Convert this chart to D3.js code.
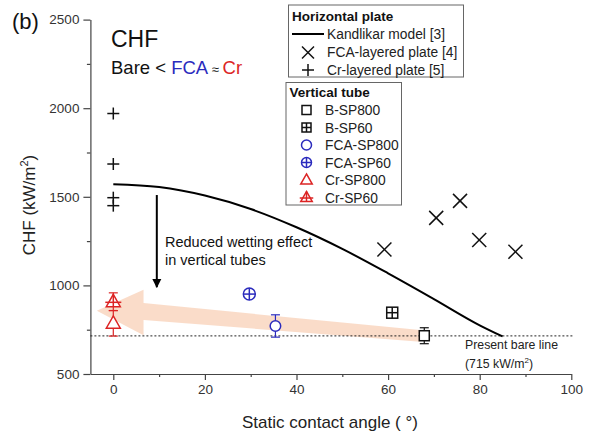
<!DOCTYPE html>
<html>
<head>
<meta charset="utf-8">
<script src="https://cdn.jsdelivr.net/npm/d3@7"></script>
<style>
  body { margin: 0; background: #fff; }
  svg { font-family: 'Liberation Sans', Arial, sans-serif; }
  .axis path, .axis line { stroke: #444; stroke-width: 1.2; }
  .axis text { fill: #333; font-size: 13.5px; font-family: 'Liberation Sans', Arial, sans-serif; }
</style>
</head>
<body>
<svg id="chart" width="591" height="434"></svg>
<script>
const xDomain = [-5, 100]
const yDomain = [500, 2500]
const xTicks = [0, 20, 40, 60, 80, 100]
const xMinor = [10, 30, 50, 70, 90]
const yTicks = [500, 1000, 1500, 2000, 2500]
const yMinor = [750, 1250, 1750, 2250]

// horizontal plate
const kandlikarAngle = [0, 10, 20, 30, 40, 50, 60, 70, 80, 85]
const kandlikarChf = [1571, 1555, 1507, 1431, 1328, 1206, 1068, 923, 775, 712]
const fcaPlateAngle = [59.2, 70.5, 75.7, 79.9, 87.8]
const fcaPlateChf = [1203, 1381, 1477, 1256, 1190]
const crPlateAngle = [0, 0, 0, 0]
const crPlateChf = [1970, 1685, 1495, 1450]

// vertical tube
const tubeNames = ['B-SP800', 'B-SP60', 'FCA-SP800', 'FCA-SP60', 'Cr-SP800', 'Cr-SP60']
const tubeAngle = [67.9, 60.9, 35.4, 29.7, 0, 0]
const tubeChf = [716, 846, 771, 951, 786, 908]
const tubeErr = [45, 0, 63, 0, 72, 50]
const tubeShape = ['square', 'squarePlus', 'circle', 'circlePlus', 'triangle', 'trianglePlus']

const bareLine = 715
// wide pale arrow (data units), tip on the left
const trendArrow = [[-3.6, 857], [6.6, 976], [6.6, 900], [67, 748], [67, 682], [6.6, 805], [6.6, 718]]
// reduced wetting arrow
const wettingArrow = [[9.5, 1510], [9.5, 990]]

const blue = '#2b2bbd'
const red = '#dc2424'
const tubeColor = ['#111', '#111', blue, blue, red, red]

const svg = d3.select('#chart')
const x = d3.scaleLinear().domain(xDomain).range([90.4, 571.3])
const y = d3.scaleLinear().domain(yDomain).range([374, 19.6])

// x axis
svg.append('g').classed('axis', true)
  .attr('transform', `translate(0 ${y(500)})`)
  .call(d3.axisBottom(x).tickValues(xTicks).tickFormat(d3.format('d'))
    .tickSize(6).tickPadding(4).tickSizeOuter(0))
svg.append('g').classed('axis', true)
  .attr('transform', `translate(0 ${y(500)})`)
  .call(d3.axisBottom(x).tickValues(xMinor).tickSize(3).tickFormat('').tickSizeOuter(0))
  .select('.domain').remove()

// y axis
svg.append('g').classed('axis', true)
  .attr('transform', `translate(${x(-5)} 0)`)
  .call(d3.axisLeft(y).tickValues(yTicks).tickFormat(d3.format('d'))
    .tickSize(7).tickPadding(4).tickSizeOuter(0))
svg.append('g').classed('axis', true)
  .attr('transform', `translate(${x(-5)} 0)`)
  .call(d3.axisLeft(y).tickValues(yMinor).tickSize(3.5).tickFormat('').tickSizeOuter(0))
  .select('.domain').remove()

// axis titles
svg.append('text')
  .attr('x', 330).attr('y', 428)
  .attr('text-anchor', 'middle')
  .attr('font-size', 17).attr('fill', '#222')
  .text('Static contact angle ( °)')

const yt = svg.append('text')
  .attr('transform', 'translate(35 205) rotate(-90)')
  .attr('text-anchor', 'middle')
  .attr('font-size', 17).attr('fill', '#222')
yt.append('tspan').text('CHF (kW/m')
yt.append('tspan').attr('dy', -7).attr('font-size', 11).text('2')
yt.append('tspan').attr('dy', 7).text(')')

// pale trend arrow
svg.append('path')
  .attr('d', d3.line().x(d => x(d[0])).y(d => y(d[1])).curve(d3.curveLinearClosed)(trendArrow))
  .attr('fill', '#f9d8c3')
  .attr('opacity', 0.9)

// bare line
svg.append('line')
  .attr('x1', x(-5)).attr('x2', x(100.5))
  .attr('y1', y(bareLine)).attr('y2', y(bareLine))
  .attr('stroke', '#222').attr('stroke-width', 1)
  .attr('stroke-dasharray', '2 2')

// Kandlikar model
svg.append('path')
  .datum(d3.zip(kandlikarAngle, kandlikarChf))
  .attr('fill', 'none')
  .attr('stroke', '#000')
  .attr('stroke-width', 2)
  .attr('d', d3.line().x(d => x(d[0])).y(d => y(d[1])).curve(d3.curveMonotoneX))

// wetting arrow
const defs = svg.append('defs')
defs.append('marker')
  .attr('id', 'head')
  .attr('viewBox', '0 0 10 10')
  .attr('refX', 9).attr('refY', 5)
  .attr('markerWidth', 4.5).attr('markerHeight', 5)
  .attr('markerUnits', 'strokeWidth')
  .attr('orient', 'auto')
  .append('path').attr('d', 'M0,0 L10,5 L0,10 z').attr('fill', '#000')
svg.append('line')
  .attr('x1', x(wettingArrow[0][0])).attr('y1', y(wettingArrow[0][1]))
  .attr('x2', x(wettingArrow[1][0])).attr('y2', y(wettingArrow[1][1]))
  .attr('stroke', '#000').attr('stroke-width', 2)
  .attr('marker-end', 'url(#head)')

// symbols
function symbol(g, type, cx, cy, s, color) {
  const h = s / 2
  const st = { stroke: color, 'stroke-width': 1.5, fill: '#fff' }
  const apply = (sel) => { for (const k in st) sel.attr(k, st[k]); return sel }
  const line = (x1, y1, x2, y2) => g.append('line')
    .attr('x1', cx + x1).attr('y1', cy + y1).attr('x2', cx + x2).attr('y2', cy + y2)
    .attr('stroke', color).attr('stroke-width', 1.5)
  if (type === 'square' || type === 'squarePlus') {
    apply(g.append('rect').attr('x', cx - h).attr('y', cy - h).attr('width', s).attr('height', s))
    if (type === 'squarePlus') { line(-h, 0, h, 0); line(0, -h, 0, h) }
  } else if (type === 'circle' || type === 'circlePlus') {
    apply(g.append('circle').attr('cx', cx).attr('cy', cy).attr('r', h))
    if (type === 'circlePlus') { line(-h, 0, h, 0); line(0, -h, 0, h) }
  } else if (type === 'triangle' || type === 'trianglePlus') {
    const th = s * 0.88
    apply(g.append('path').attr('d',
      `M${cx},${cy - th * 0.6} L${cx + h},${cy + th * 0.4} L${cx - h},${cy + th * 0.4} Z`))
    if (type === 'trianglePlus') {
      line(-h - 1, th * 0.05, h + 1, th * 0.05)
      line(0, -th * 0.6, 0, th * 0.4)
    }
  } else if (type === 'x') {
    line(-h, -h, h, h); line(-h, h, h, -h)
  } else if (type === 'plus') {
    line(-h, 0, h, 0); line(0, -h, 0, h)
  }
}

const marks = svg.append('g')
fcaPlateAngle.forEach((a, i) => symbol(marks, 'x', x(a), y(fcaPlateChf[i]), 14, '#111'))
crPlateAngle.forEach((a, i) => symbol(marks, 'plus', x(a), y(crPlateChf[i]), 12, '#111'))

const plotSize = { square: 10, squarePlus: 11, circle: 10.5, circlePlus: 12, triangle: 14, trianglePlus: 14 }
tubeNames.forEach((name, i) => {
  const cx = x(tubeAngle[i]), cy = y(tubeChf[i]), c = tubeColor[i]
  if (tubeErr[i] > 0) {
    const y0 = y(tubeChf[i] - tubeErr[i]), y1 = y(tubeChf[i] + tubeErr[i])
    marks.append('line').attr('x1', cx).attr('x2', cx).attr('y1', y0).attr('y2', y1)
      .attr('stroke', c).attr('stroke-width', 1.2)
    for (const yy of [y0, y1]) {
      marks.append('line').attr('x1', cx - 4.5).attr('x2', cx + 4.5).attr('y1', yy).attr('y2', yy)
        .attr('stroke', c).attr('stroke-width', 1.2)
    }
  }
  symbol(marks, tubeShape[i], cx, cy, plotSize[tubeShape[i]], c)
})

// texts
svg.append('text').attr('x', 12).attr('y', 29).attr('font-size', 22).attr('fill', '#111').text('(b)')
svg.append('text').attr('x', 111).attr('y', 47).attr('font-size', 23).attr('fill', '#111').text('CHF')
const cmp = svg.append('text').attr('x', 111).attr('y', 74).attr('font-size', 18.5).attr('fill', '#111')
cmp.append('tspan').text('Bare < ')
cmp.append('tspan').attr('fill', blue).text('FCA')
cmp.append('tspan').attr('font-size', 13).text(' ≈ ')
cmp.append('tspan').attr('fill', red).text('Cr')

svg.append('text').attr('x', 165).attr('y', 246.5).attr('font-size', 14.5).attr('fill', '#111')
  .text('Reduced wetting effect')
svg.append('text').attr('x', 165).attr('y', 264.5).attr('font-size', 14.5).attr('fill', '#111')
  .text('in vertical tubes')

svg.append('text').attr('x', 465).attr('y', 349).attr('font-size', 12.3).attr('fill', '#222')
  .text('Present bare line')
const bl = svg.append('text').attr('x', 465).attr('y', 367.5).attr('font-size', 12.3).attr('fill', '#222')
bl.append('tspan').text('(715 kW/m')
bl.append('tspan').attr('dy', -5).attr('font-size', 8).text('2')
bl.append('tspan').attr('dy', 5).text(')')

// legend: horizontal plate
const lg1 = svg.append('g')
lg1.append('rect').attr('x', 288.5).attr('y', 5).attr('width', 175).attr('height', 72)
  .attr('fill', '#fff').attr('stroke', '#666').attr('stroke-width', 1)
lg1.append('text').attr('x', 292).attr('y', 21).attr('font-size', 13.5).attr('font-weight', 'bold')
  .attr('fill', '#111').text('Horizontal plate')
lg1.append('line').attr('x1', 292).attr('x2', 324).attr('y1', 34).attr('y2', 34)
  .attr('stroke', '#000').attr('stroke-width', 2)
lg1.append('text').attr('x', 327).attr('y', 38.5).attr('font-size', 13.8).attr('fill', '#222')
  .text('Kandlikar model [3]')
symbol(lg1, 'x', 308, 52.5, 12, '#111')
lg1.append('text').attr('x', 327).attr('y', 57).attr('font-size', 13.8).attr('fill', '#222')
  .text('FCA-layered plate [4]')
symbol(lg1, 'plus', 308, 70, 12, '#111')
lg1.append('text').attr('x', 327).attr('y', 75).attr('font-size', 13.8).attr('fill', '#222')
  .text('Cr-layered plate [5]')

// legend: vertical tube
const lg2 = svg.append('g')
lg2.append('rect').attr('x', 286).attr('y', 82.5).attr('width', 115.5).attr('height', 122.5)
  .attr('fill', '#fff').attr('stroke', '#666').attr('stroke-width', 1)
lg2.append('text').attr('x', 289.5).attr('y', 97).attr('font-size', 13.5).attr('font-weight', 'bold')
  .attr('fill', '#111').text('Vertical tube')
const legSize = { square: 9, squarePlus: 9, circle: 10, circlePlus: 10, triangle: 11.5, trianglePlus: 11.5 }
tubeNames.forEach((name, i) => {
  const cy = 110 + i * 17.5
  symbol(lg2, tubeShape[i], 306.5, cy, legSize[tubeShape[i]], tubeColor[i])
  lg2.append('text').attr('x', 325).attr('y', cy + 5).attr('font-size', 13.8).attr('fill', '#222')
    .text(name)
})
</script>
</body>
</html>
